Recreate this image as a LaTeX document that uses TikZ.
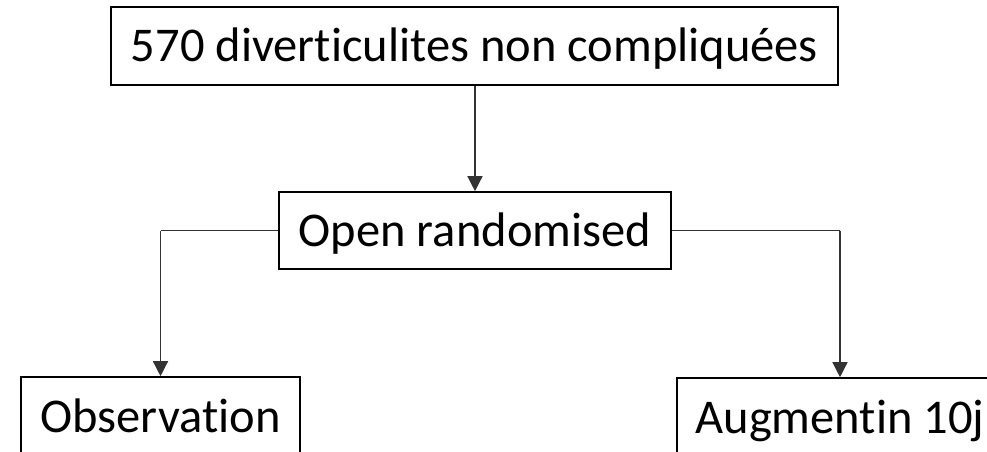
\documentclass[tikz,border=0pt]{standalone}
\usepackage{fontspec}
\setmainfont[Ligatures={NoCommon}]{Carlito}
\usetikzlibrary{arrows.meta}
\begin{document}
\begin{tikzpicture}[x=1pt,y=-1pt,
  box/.style={draw=black,line width=1.6pt,fill=white,inner sep=0pt,font=\fontsize{48.5}{52}\selectfont,text height=36pt,text depth=4pt},
  conn/.style={draw=black!80,line width=1.4pt,-{Triangle[width=15pt,length=15pt]}},
  plain/.style={draw=black!80,line width=1.4pt}]
\useasboundingbox (0,0) rectangle (987,452);
\clip (0,0) rectangle (987,452);
\node[box,minimum width=727pt,minimum height=78pt] (top) at (474.5,46) {570 diverticulites non compliquées};
\node[box,minimum width=392pt,minimum height=77pt] (mid) at (475,230.5) {Open randomised};
\node[box,minimum width=279pt,minimum height=78pt] (obs) at (160.5,416) {Observation};
\node[box,minimum width=326pt,minimum height=78pt] (aug) at (840,417) {Augmentin 10j};
\draw[conn] (top.south -| mid.north) -- (mid.north);
\coordinate (lc) at (mid.west -| obs.north);
\coordinate (rc) at (mid.east -| aug.north);
\draw[plain] (mid.west) -- (lc);
\draw[conn] (lc) -- (obs.north);
\draw[plain] (mid.east) -- (rc);
\draw[conn] (rc) -- (aug.north);
\end{tikzpicture}
\end{document}
